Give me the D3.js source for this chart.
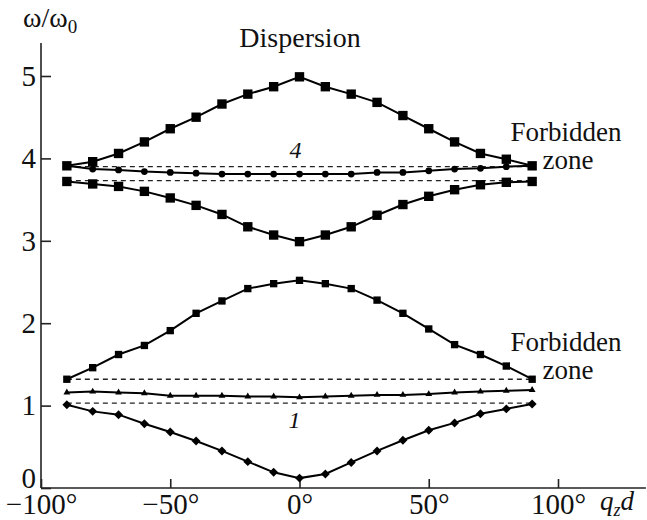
<!DOCTYPE html>
<html>
<head>
<meta charset="utf-8">
<script src="https://cdn.jsdelivr.net/npm/d3@7"></script>
<style>
  body { margin: 0; background: #fff; }
  svg text { font-family: "Liberation Serif", "Times New Roman", Times, "DejaVu Serif", serif; fill: #111; }
</style>
</head>
<body>
<div id="chart"></div>
<script>
// Wave number q_z d, degrees
let qd = [-90, -80, -70, -60, -50, -40, -30, -20, -10, 0, 10, 20, 30, 40, 50, 60, 70, 80, 90];

// Branches of omega/omega0
let branchDiamond = [1.01, 0.93, 0.89, 0.78, 0.68, 0.57, 0.45, 0.32, 0.19, 0.12, 0.17, 0.31, 0.45, 0.58, 0.70, 0.79, 0.90, 0.96, 1.02];
let branchTriangle = [1.16, 1.17, 1.16, 1.15, 1.12, 1.12, 1.12, 1.11, 1.11, 1.10, 1.11, 1.12, 1.13, 1.13, 1.14, 1.16, 1.17, 1.18, 1.19];
let branchLowSquare = [1.32, 1.46, 1.62, 1.73, 1.91, 2.12, 2.27, 2.42, 2.48, 2.52, 2.48, 2.42, 2.28, 2.12, 1.93, 1.74, 1.62, 1.48, 1.32];
let branchMidSquare = [3.72, 3.69, 3.66, 3.60, 3.52, 3.43, 3.32, 3.17, 3.07, 2.99, 3.07, 3.17, 3.31, 3.44, 3.54, 3.62, 3.68, 3.71, 3.72];
let branchCircle = [3.91, 3.87, 3.86, 3.84, 3.83, 3.82, 3.81, 3.81, 3.81, 3.81, 3.81, 3.81, 3.83, 3.83, 3.85, 3.87, 3.88, 3.90, 3.91];
let branchTopSquare = [3.91, 3.96, 4.06, 4.20, 4.36, 4.50, 4.66, 4.78, 4.87, 4.99, 4.87, 4.78, 4.68, 4.52, 4.36, 4.20, 4.06, 3.99, 3.91];

// Forbidden zone boundaries (dashed)
let zoneLines = [1.03, 1.32, 3.73, 3.90];

let xTicks = [-100, -50, 0, 50, 100];
let yTicks = [0, 1, 2, 3, 4, 5];

let svgWidth = 647;
let svgHeight = 520;
let serif = "'Liberation Serif', 'Times New Roman', Times, 'DejaVu Serif', serif";

let svg = d3.select("#chart")
    .append("svg")
    .attr("width", svgWidth)
    .attr("height", svgHeight);

let x = d3.scaleLinear().domain([-100, 100]).range([41, 558]);
let y = d3.scaleLinear().domain([0, 5]).range([488, 76]);

// Axes lines
svg.append("line")
    .attr("x1", x(-100)).attr("x2", x(134))
    .attr("y1", y(0)).attr("y2", y(0))
    .attr("stroke", "#222").attr("stroke-width", 1.6);
svg.append("line")
    .attr("x1", x(-100)).attr("x2", x(-100))
    .attr("y1", y(0)).attr("y2", y(5.4))
    .attr("stroke", "#222").attr("stroke-width", 1.6);

let fmtDeg = d => (d < 0 ? "\u2212" : "") + Math.abs(d) + "\u00B0";

let xAxis = svg.append("g")
    .attr("transform", `translate(0, ${y(0)})`)
    .call(d3.axisBottom(x).tickValues(xTicks).tickSizeInner(-9).tickSizeOuter(0).tickFormat(fmtDeg));
xAxis.attr("font-family", serif);
xAxis.select(".domain").remove();
xAxis.selectAll("line").attr("stroke", "#222").attr("stroke-width", 1.6);
xAxis.selectAll("text")
    .attr("y", 26).attr("dy", 0)
    .style("font-size", "29px")
    .attr("fill", "#111");

let yAxis = svg.append("g")
    .attr("transform", `translate(${x(-100)}, 0)`)
    .call(d3.axisLeft(y).tickValues(yTicks).tickSizeInner(-10).tickSizeOuter(0).tickFormat(d3.format("d")));
yAxis.attr("font-family", serif);
yAxis.select(".domain").remove();
yAxis.selectAll("line").attr("stroke", "#222").attr("stroke-width", 1.6);
yAxis.selectAll("text")
    .attr("x", -5).attr("dy", "0.32em")
    .style("font-size", "29px")
    .attr("fill", "#111");
yAxis.selectAll(".tick").filter(d => d === 0).select("text").attr("dy", "-0.02em");

// Dashed forbidden zone boundaries
svg.selectAll(".zone")
    .data(zoneLines)
    .enter()
    .append("line")
    .attr("x1", x(-90)).attr("x2", x(90))
    .attr("y1", d => y(d)).attr("y2", d => y(d))
    .attr("stroke", "#222")
    .attr("stroke-width", 1.3)
    .attr("stroke-dasharray", "5,4");

let line = d3.line()
    .x((d, i) => x(qd[i]))
    .y(d => y(d));

function drawBranch(values, symbol, size, rotate) {
    svg.append("path")
        .datum(values)
        .attr("d", line)
        .attr("fill", "none")
        .attr("stroke", "#000")
        .attr("stroke-width", 2);
    svg.append("g").selectAll("path")
        .data(values)
        .enter()
        .append("path")
        .attr("d", d3.symbol().type(symbol).size(size))
        .attr("transform", (d, i) => `translate(${x(qd[i])}, ${y(d)}) rotate(${rotate})`)
        .attr("fill", "#000");
}

drawBranch(branchDiamond, d3.symbolSquare, 40, 45);
drawBranch(branchTriangle, d3.symbolTriangle, 20, 0);
drawBranch(branchLowSquare, d3.symbolSquare, 54, 0);
drawBranch(branchMidSquare, d3.symbolSquare, 88, 0);
drawBranch(branchCircle, d3.symbolCircle, 36, 0);
drawBranch(branchTopSquare, d3.symbolSquare, 88, 0);

// Labels
let yLabel = svg.append("text")
    .attr("x", 23).attr("y", 27)
    .style("font-size", "28px");
yLabel.append("tspan").text("\u03C9/\u03C9");
yLabel.append("tspan").attr("dy", 6).style("font-size", "19px").text("0");

svg.append("text")
    .attr("x", 300).attr("y", 47)
    .attr("text-anchor", "middle")
    .style("font-size", "28px")
    .text("Dispersion");

svg.append("text")
    .attr("x", x(0) - 4).attr("y", 158)
    .attr("text-anchor", "middle")
    .style("font-size", "24px").style("font-style", "italic")
    .text("4");

svg.append("text")
    .attr("x", x(0) - 5).attr("y", 428)
    .attr("text-anchor", "middle")
    .style("font-size", "24px").style("font-style", "italic")
    .text("1");

[[141, 169], [351, 379]].forEach(function (p) {
    svg.append("text")
        .attr("x", 566).attr("y", p[0])
        .attr("text-anchor", "middle")
        .style("font-size", "27px")
        .text("Forbidden");
    svg.append("text")
        .attr("x", 568).attr("y", p[1])
        .attr("text-anchor", "middle")
        .style("font-size", "27px")
        .text("zone");
});

let xLabel = svg.append("text")
    .attr("x", 600).attr("y", 510)
    .style("font-size", "27px").style("font-style", "italic");
xLabel.append("tspan").text("q");
xLabel.append("tspan").attr("dy", 6).style("font-size", "18px").text("z");
xLabel.append("tspan").attr("dy", -6).text("d");
</script>
</body>
</html>
